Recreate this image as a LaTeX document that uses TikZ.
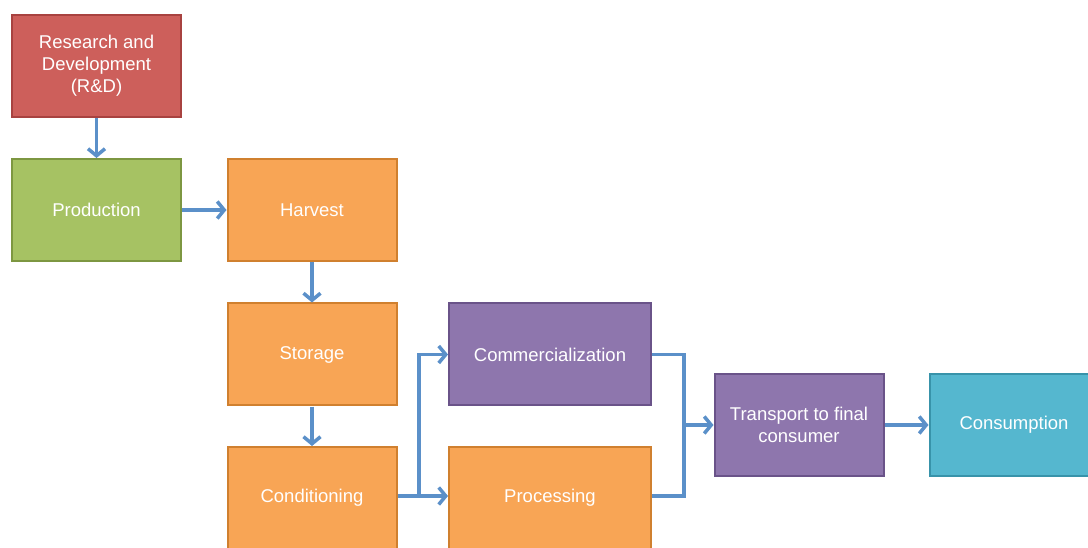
\documentclass[tikz,border=0pt]{standalone}
\usepackage{fontspec}
\setmainfont{Liberation Sans}
\usetikzlibrary{arrows.meta}

% box colours (fill / rim)
\definecolor{rndfill}{HTML}{CD5F5B}
\definecolor{rndrim}{HTML}{A84240}
\definecolor{prodfill}{HTML}{A6C263}
\definecolor{prodrim}{HTML}{7D9741}
\definecolor{orgfill}{HTML}{F8A555}
\definecolor{orgrim}{HTML}{D0802F}
\definecolor{purfill}{HTML}{8E76AD}
\definecolor{purrim}{HTML}{6A5389}
\definecolor{tealfill}{HTML}{55B7CF}
\definecolor{tealrim}{HTML}{3893AA}
\definecolor{flowblue}{HTML}{5B90C9}

\tikzset{
  stagebox/.style={rectangle, line width=2pt, minimum width=169pt,
    minimum height=102pt, align=center, text=white,
    font=\fontsize{18.5}{22}\selectfont},
  redbox/.style={stagebox, fill=rndfill, draw=rndrim},
  greenbox/.style={stagebox, fill=prodfill, draw=prodrim},
  orangebox/.style={stagebox, fill=orgfill, draw=orgrim},
  purplebox/.style={stagebox, fill=purfill, draw=purrim},
  tealbox/.style={stagebox, fill=tealfill, draw=tealrim},
  link/.style={draw=flowblue, line width=3.5pt},
  flow/.style={link, -{Straight Barb[length=7pt, width=17pt, line width=3.5pt]}}
}

\begin{document}
\begin{tikzpicture}[x=1pt, y=1pt]

  % ============================================================
  % Frame: 1088 x 547, everything beyond is cut away
  % ============================================================
  \useasboundingbox (0,0) rectangle (1088,547);
  \clip (0,0) rectangle (1088,547);
  \fill[white] (0,0) rectangle (1088,547);

  % ============================================================
  % Stages of the chain
  % ============================================================
  \node[redbox]    (rnd)          at (96.5,481)  {Research and\\Development\\(R\&D)};
  \node[greenbox]  (production)   at (96.5,337)  {Production};
  \node[orangebox] (harvest)      at (312,337)   {Harvest};
  \node[orangebox] (storage)      at (312,192.5) {Storage};
  \node[orangebox] (conditioning) at (312,49)    {Conditioning};

  \node[purplebox, minimum width=202pt] (commerce)   at (550,192.5) {Commercialization};
  \node[orangebox, minimum width=202pt] (processing) at (550,49)    {Processing};

  \node[purplebox] (transport)   at (799,122)  {Transport to final\\consumer};
  \node[tealbox]   (consumption) at (1014,122) {Consumption};

  % ============================================================
  % Connectors
  % ============================================================
  \draw[flow] (rnd) -- (production);
  \draw[flow] (production) -- (harvest);
  \draw[flow] (harvest) -- (storage);
  \draw[flow] (storage) -- (conditioning);

  % split after conditioning
  \coordinate (split) at (419,51);
  \draw[flow] (conditioning.east |- split) -- (processing.west |- split);
  \draw[flow] (split) |- (commerce.west);

  % merge before transport
  \coordinate (merge) at (684,122);
  \draw[link] (commerce.east) -| (merge);
  \draw[link] (processing.east |- split) -| (merge);
  \draw[flow] (merge) -- (transport.west);

  \draw[flow] (transport) -- (consumption);

\end{tikzpicture}
\end{document}
